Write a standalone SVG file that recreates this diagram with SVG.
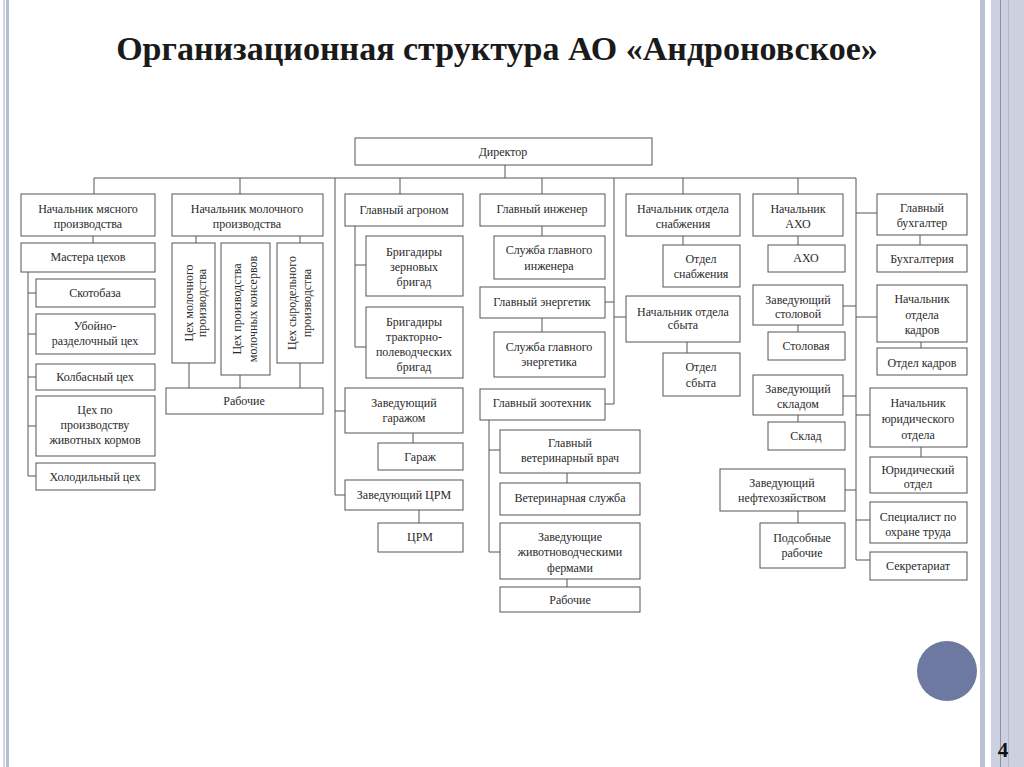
<svg xmlns="http://www.w3.org/2000/svg" width="1024" height="767" viewBox="0 0 1024 767">
<style>
.b{fill:#fff;stroke:#555;stroke-width:1}
.t{font-family:"Liberation Serif","Times New Roman",serif;font-size:12px;fill:#2a2a2a;text-anchor:middle}
.c{stroke:#555;stroke-width:1;fill:none}
</style>
<rect width="1024" height="767" fill="#fff"/>
<!-- page decoration -->
<rect x="3" y="0" width="2" height="767" fill="#d3d7e4"/>
<rect x="6" y="0" width="3" height="767" fill="#b8bed2"/>
<rect x="980" y="0" width="5" height="767" fill="#bcc2d5"/>
<rect x="991" y="0" width="33" height="767" fill="#cdd1df"/>
<line x1="1000.5" y1="0" x2="1000.5" y2="767" stroke="#8b92ab" stroke-width="1"/>
<line x1="1008.5" y1="0" x2="1008.5" y2="767" stroke="#b2b8cb" stroke-width="1"/>
<circle cx="947" cy="671" r="30" fill="#6e79a1"/>
<text x="1003" y="757" font-family="Liberation Serif, serif" font-weight="bold" font-size="21" text-anchor="middle" fill="#111">4</text>
<text x="497" y="60" font-family="Liberation Serif, serif" font-weight="bold" font-size="34" text-anchor="middle" fill="#1a1a1a">Организационная структура АО «Андроновское»</text>

<g id="connectors" class="c">
<path d="M505,165V178M94,178H856M94,178V194M240,178V194M335,178V495M400,178V194M542,178V194M614,178V404M683,178V194M798,178V194M856,178V560"/>
<path d="M93,236V243M28,272V476M28,293H36M28,334H36M28,377H36M28,426H36M28,476H36"/>
<path d="M196,236V243M300,236V243M189,363V388M240,375V388M300,363V388"/>
<path d="M355,226V347M355,265H366M355,347H366M335,411H345M335,495H345M413,433V443M419,510V523"/>
<path d="M542,226V236M542,318V332M605,302H614M614,317H626M605,404H614M489,420V552M489,450H500M489,552H500M567,473V483M567,579V587"/>
<path d="M683,236V245M687,342V353"/>
<path d="M798,236V245M798,325V332M798,415V422M798,511V523M843,306H856M843,396H856M845,490H856"/>
<path d="M856,213H877M856,317H877M856,415H870M856,520H870M856,560H870M920,235V245M921,342V348M921,447V457"/>
</g>

<g id="director"><rect class="b" x="355" y="138" width="297" height="27"/><text class="t" x="503" y="156">Директор</text></g>

<g id="n_meat"><rect class="b" x="21" y="194" width="134" height="42"/><text class="t" x="88" y="213">Начальник мясного</text><text class="t" x="88" y="228">производства</text></g>
<g id="masters"><rect class="b" x="21" y="243" width="134" height="29"/><text class="t" x="88" y="261">Мастера цехов</text></g>
<g id="skotobaza"><rect class="b" x="36" y="279" width="119" height="28"/><text class="t" x="95" y="297">Скотобаза</text></g>
<g id="uboy"><rect class="b" x="36" y="314" width="119" height="40"/><text class="t" x="95" y="330">Убойно-</text><text class="t" x="95" y="345">разделочный цех</text></g>
<g id="kolbas"><rect class="b" x="36" y="364" width="119" height="26"/><text class="t" x="95" y="381">Колбасный цех</text></g>
<g id="korm"><rect class="b" x="36" y="396" width="119" height="60"/><text class="t" x="95" y="414">Цех по</text><text class="t" x="95" y="429">производству</text><text class="t" x="95" y="444">животных кормов</text></g>
<g id="holod"><rect class="b" x="36" y="463" width="119" height="27"/><text class="t" x="95" y="481">Холодильный цех</text></g>

<g id="n_milk"><rect class="b" x="172" y="194" width="151" height="42"/><text class="t" x="247" y="213">Начальник молочного</text><text class="t" x="247" y="228">производства</text></g>
<g id="milk1"><rect class="b" x="172" y="243" width="43" height="120"/><text class="t" transform="translate(193,303) rotate(-90)">Цех молочного</text><text class="t" transform="translate(206,303) rotate(-90)">производства</text></g>
<g id="milk2"><rect class="b" x="221" y="243" width="49" height="132"/><text class="t" transform="translate(241,309) rotate(-90)">Цех производства</text><text class="t" transform="translate(257,309) rotate(-90)">молочных консервов</text></g>
<g id="milk3"><rect class="b" x="277" y="243" width="46" height="120"/><text class="t" transform="translate(296,303) rotate(-90)">Цех сыродельного</text><text class="t" transform="translate(311,303) rotate(-90)">производства</text></g>
<g id="workers1"><rect class="b" x="166" y="388" width="157" height="26"/><text class="t" x="244" y="405">Рабочие</text></g>

<g id="agronom"><rect class="b" x="345" y="194" width="118" height="32"/><text class="t" x="404" y="214">Главный агроном</text></g>
<g id="brig1"><rect class="b" x="366" y="236" width="97" height="60"/><text class="t" x="414" y="256">Бригадиры</text><text class="t" x="414" y="271">зерновых</text><text class="t" x="414" y="286">бригад</text></g>
<g id="brig2"><rect class="b" x="366" y="307" width="97" height="71"/><text class="t" x="414" y="326">Бригадиры</text><text class="t" x="414" y="341">тракторно-</text><text class="t" x="414" y="356">полеводческих</text><text class="t" x="414" y="371">бригад</text></g>
<g id="garage_head"><rect class="b" x="345" y="388" width="118" height="45"/><text class="t" x="404" y="407">Заведующий</text><text class="t" x="404" y="422">гаражом</text></g>
<g id="garage"><rect class="b" x="378" y="443" width="85" height="27"/><text class="t" x="420" y="461">Гараж</text></g>
<g id="crm_head"><rect class="b" x="345" y="480" width="118" height="30"/><text class="t" x="404" y="499">Заведующий ЦРМ</text></g>
<g id="crm"><rect class="b" x="378" y="523" width="85" height="29"/><text class="t" x="420" y="541">ЦРМ</text></g>

<g id="engineer"><rect class="b" x="480" y="194" width="125" height="32"/><text class="t" x="542" y="213">Главный инженер</text></g>
<g id="sl_eng"><rect class="b" x="494" y="236" width="111" height="43"/><text class="t" x="549" y="254">Служба главного</text><text class="t" x="549" y="270">инженера</text></g>
<g id="energ"><rect class="b" x="480" y="287" width="125" height="31"/><text class="t" x="542" y="306">Главный энергетик</text></g>
<g id="sl_energ"><rect class="b" x="494" y="332" width="111" height="45"/><text class="t" x="549" y="351">Служба главного</text><text class="t" x="549" y="366">энергетика</text></g>
<g id="zootech"><rect class="b" x="480" y="389" width="125" height="31"/><text class="t" x="542" y="407">Главный зоотехник</text></g>
<g id="vet_head"><rect class="b" x="500" y="430" width="140" height="43"/><text class="t" x="570" y="447">Главный</text><text class="t" x="570" y="462">ветеринарный врач</text></g>
<g id="vet"><rect class="b" x="500" y="483" width="140" height="32"/><text class="t" x="570" y="502">Ветеринарная служба</text></g>
<g id="farms"><rect class="b" x="500" y="523" width="140" height="56"/><text class="t" x="570" y="541">Заведующие</text><text class="t" x="570" y="556">животноводческими</text><text class="t" x="570" y="572">фермами</text></g>
<g id="workers2"><rect class="b" x="500" y="587" width="140" height="25"/><text class="t" x="570" y="604">Рабочие</text></g>

<g id="snab_head"><rect class="b" x="626" y="194" width="114" height="42"/><text class="t" x="683" y="213">Начальник отдела</text><text class="t" x="683" y="228">снабжения</text></g>
<g id="snab"><rect class="b" x="663" y="245" width="77" height="42"/><text class="t" x="701" y="263">Отдел</text><text class="t" x="701" y="278">снабжения</text></g>
<g id="sbyt_head"><rect class="b" x="626" y="296" width="114" height="46"/><text class="t" x="683" y="316">Начальник отдела</text><text class="t" x="683" y="329">сбыта</text></g>
<g id="sbyt"><rect class="b" x="663" y="353" width="77" height="43"/><text class="t" x="701" y="371">Отдел</text><text class="t" x="701" y="387">сбыта</text></g>

<g id="aho_head"><rect class="b" x="753" y="194" width="90" height="42"/><text class="t" x="798" y="213">Начальник</text><text class="t" x="798" y="228">АХО</text></g>
<g id="aho"><rect class="b" x="768" y="245" width="77" height="27"/><text class="t" x="806" y="262">АХО</text></g>
<g id="stol_head"><rect class="b" x="753" y="285" width="90" height="40"/><text class="t" x="798" y="304">Заведующий</text><text class="t" x="798" y="318">столовой</text></g>
<g id="stol"><rect class="b" x="768" y="332" width="77" height="28"/><text class="t" x="806" y="350">Столовая</text></g>
<g id="sklad_head"><rect class="b" x="753" y="375" width="90" height="40"/><text class="t" x="798" y="393">Заведующий</text><text class="t" x="798" y="408">складом</text></g>
<g id="sklad"><rect class="b" x="768" y="422" width="77" height="28"/><text class="t" x="806" y="440">Склад</text></g>
<g id="neft_head"><rect class="b" x="720" y="469" width="125" height="42"/><text class="t" x="782" y="487">Заведующий</text><text class="t" x="782" y="502">нефтехозяйством</text></g>
<g id="podsob"><rect class="b" x="760" y="523" width="85" height="45"/><text class="t" x="802" y="542">Подсобные</text><text class="t" x="802" y="557">рабочие</text></g>

<g id="buh_head"><rect class="b" x="877" y="194" width="90" height="41"/><text class="t" x="922" y="212">Главный</text><text class="t" x="922" y="227">бухгалтер</text></g>
<g id="buh"><rect class="b" x="877" y="245" width="90" height="27"/><text class="t" x="922" y="263">Бухгалтерия</text></g>
<g id="kadr_head"><rect class="b" x="877" y="285" width="90" height="57"/><text class="t" x="922" y="303">Начальник</text><text class="t" x="922" y="319">отдела</text><text class="t" x="922" y="334">кадров</text></g>
<g id="kadr"><rect class="b" x="877" y="348" width="90" height="27"/><text class="t" x="922" y="367">Отдел кадров</text></g>
<g id="yur_head"><rect class="b" x="870" y="388" width="97" height="59"/><text class="t" x="918" y="407">Начальник</text><text class="t" x="918" y="423">юридического</text><text class="t" x="918" y="439">отдела</text></g>
<g id="yur"><rect class="b" x="870" y="457" width="97" height="36"/><text class="t" x="918" y="474">Юридический</text><text class="t" x="918" y="488">отдел</text></g>
<g id="ohrana"><rect class="b" x="870" y="502" width="97" height="41"/><text class="t" x="918" y="521">Специалист по</text><text class="t" x="918" y="536">охране труда</text></g>
<g id="secret"><rect class="b" x="870" y="552" width="97" height="28"/><text class="t" x="918" y="570">Секретариат</text></g>
</svg>
